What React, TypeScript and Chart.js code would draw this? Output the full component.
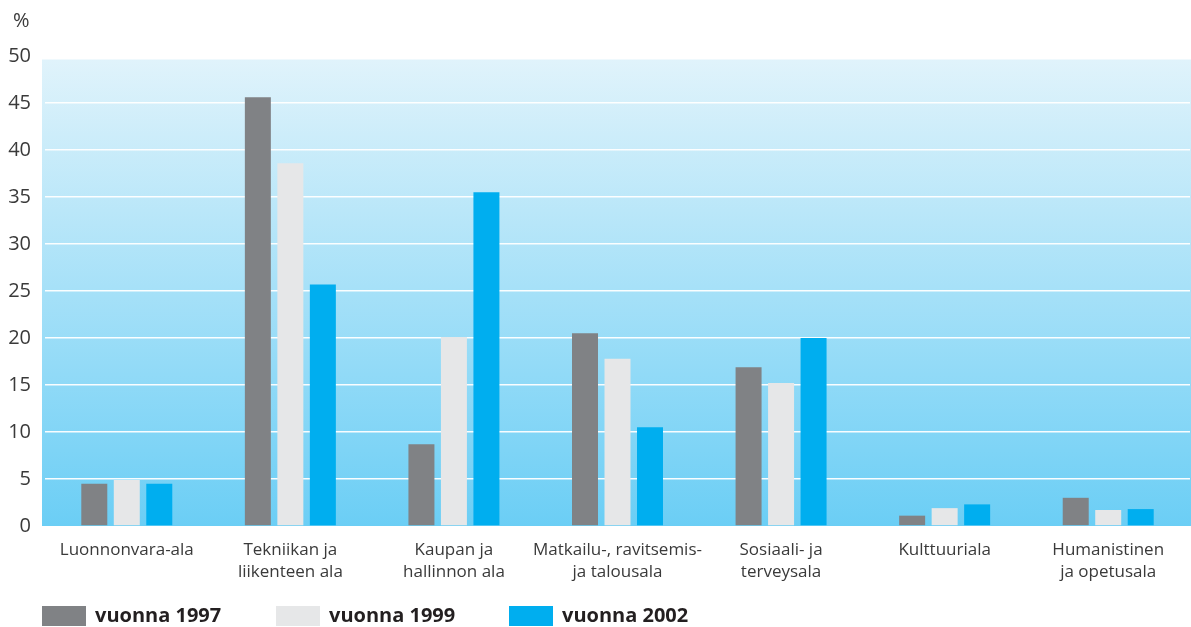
import React, { useEffect, useRef } from "react";
import { Chart, registerables } from "chart.js";

Chart.register(...registerables);

const categories: string[][] = [
  ["Luonnonvara-ala"],
  ["Tekniikan ja", "liikenteen ala"],
  ["Kaupan ja", "hallinnon ala"],
  ["Matkailu-, ravitsemis-", "ja talousala"],
  ["Sosiaali- ja", "terveysala"],
  ["Kulttuuriala"],
  ["Humanistinen", "ja opetusala"],
];

const seriesLabels = ["vuonna 1997", "vuonna 1999", "vuonna 2002"];
const values1997 = [4.5, 45.6, 8.7, 20.5, 16.9, 1.1, 3.0];
const values1999 = [4.9, 38.6, 20.1, 17.8, 15.2, 1.9, 1.7];
const values2002 = [4.5, 25.7, 35.5, 10.5, 20.0, 2.3, 1.8];
const seriesColors = ["#808285", "#e6e7e8", "#00aeef"];

const yMin = 0;
const yMax = 50;
const yStep = 5;

const FONT = "'Open Sans', 'Noto Sans', sans-serif";
const TEXT = "#3a3a3a";

const bgPlugin = {
  id: "bgGradient",
  beforeDraw(chart: any) {
    const { ctx, chartArea } = chart;
    if (!chartArea) return;
    const top = chartArea.top + 3.5;
    const left = chartArea.left - 3;
    const g = ctx.createLinearGradient(0, top, 0, chartArea.bottom);
    g.addColorStop(0, "#e0f3fb");
    g.addColorStop(1, "#6bcef5");
    ctx.save();
    ctx.fillStyle = g;
    ctx.fillRect(left, top, chart.width - left, chartArea.bottom - top);
    ctx.restore();
  },
  afterDraw(chart: any) {
    const { ctx } = chart;
    ctx.save();
    ctx.fillStyle = TEXT;
    ctx.font = `20px ${FONT}`;
    ctx.textAlign = "left";
    ctx.textBaseline = "middle";
    ctx.fillText("%", 13, 21);
    ctx.font = `bold 20px ${FONT}`;
    const xs = [42, 276, 509];
    chart.data.datasets.forEach((ds: any, i: number) => {
      const x = xs[i];
      ctx.fillStyle = ds.backgroundColor;
      ctx.fillRect(x, 606, 44, 20);
      ctx.fillStyle = "#231f20";
      ctx.fillText(ds.label, x + 53, 616);
    });
    ctx.restore();
  },
};

export default function App() {
  const ref = useRef<HTMLCanvasElement | null>(null);

  useEffect(() => {
    document.body.style.margin = "0";
    const canvas = ref.current;
    if (!canvas) return;
    const chart = new Chart(canvas, {
      type: "bar",
      data: {
        labels: categories,
        datasets: [
          { label: seriesLabels[0], data: values1997, backgroundColor: seriesColors[0] },
          { label: seriesLabels[1], data: values1999, backgroundColor: seriesColors[1] },
          { label: seriesLabels[2], data: values2002, backgroundColor: seriesColors[2] },
        ],
      },
      options: {
        responsive: false,
        animation: false,
        maintainAspectRatio: false,
        layout: { padding: { top: 56, left: 0, right: 1, bottom: 0 } },
        datasets: {
          bar: { categoryPercentage: 0.596, barPercentage: 0.8 },
        },
        plugins: {
          legend: { display: false },
          tooltip: { enabled: false },
        },
        scales: {
          x: {
            grid: { display: false, drawTicks: false },
            border: { display: false },
            ticks: {
              color: TEXT,
              font: { family: FONT, size: 17, lineHeight: 1.3 },
              padding: 13,
              maxRotation: 0,
              autoSkip: false,
            },
            afterFit(scale: any) {
              scale.height = 101;
            },
          },
          y: {
            min: yMin,
            max: yMax,
            grid: {
              drawTicks: false,
              lineWidth: 1.6,
              color: (c: any) =>
                c.tick && (c.tick.value === yMin || c.tick.value === yMax)
                  ? "rgba(0,0,0,0)"
                  : "rgba(255,255,255,0.95)",
            },
            border: { display: false },
            ticks: {
              stepSize: yStep,
              color: TEXT,
              font: { family: FONT, size: 20 },
              padding: 14,
            },
            afterFit(scale: any) {
              scale.width = 45;
            },
          },
        },
      },
      plugins: [bgPlugin],
    } as any);
    return () => chart.destroy();
  }, []);

  return (
    <div style={{ width: 1191, height: 627, position: "relative" }}>
      <canvas ref={ref} width={1191} height={627} style={{ display: "block" }} />
    </div>
  );
}
